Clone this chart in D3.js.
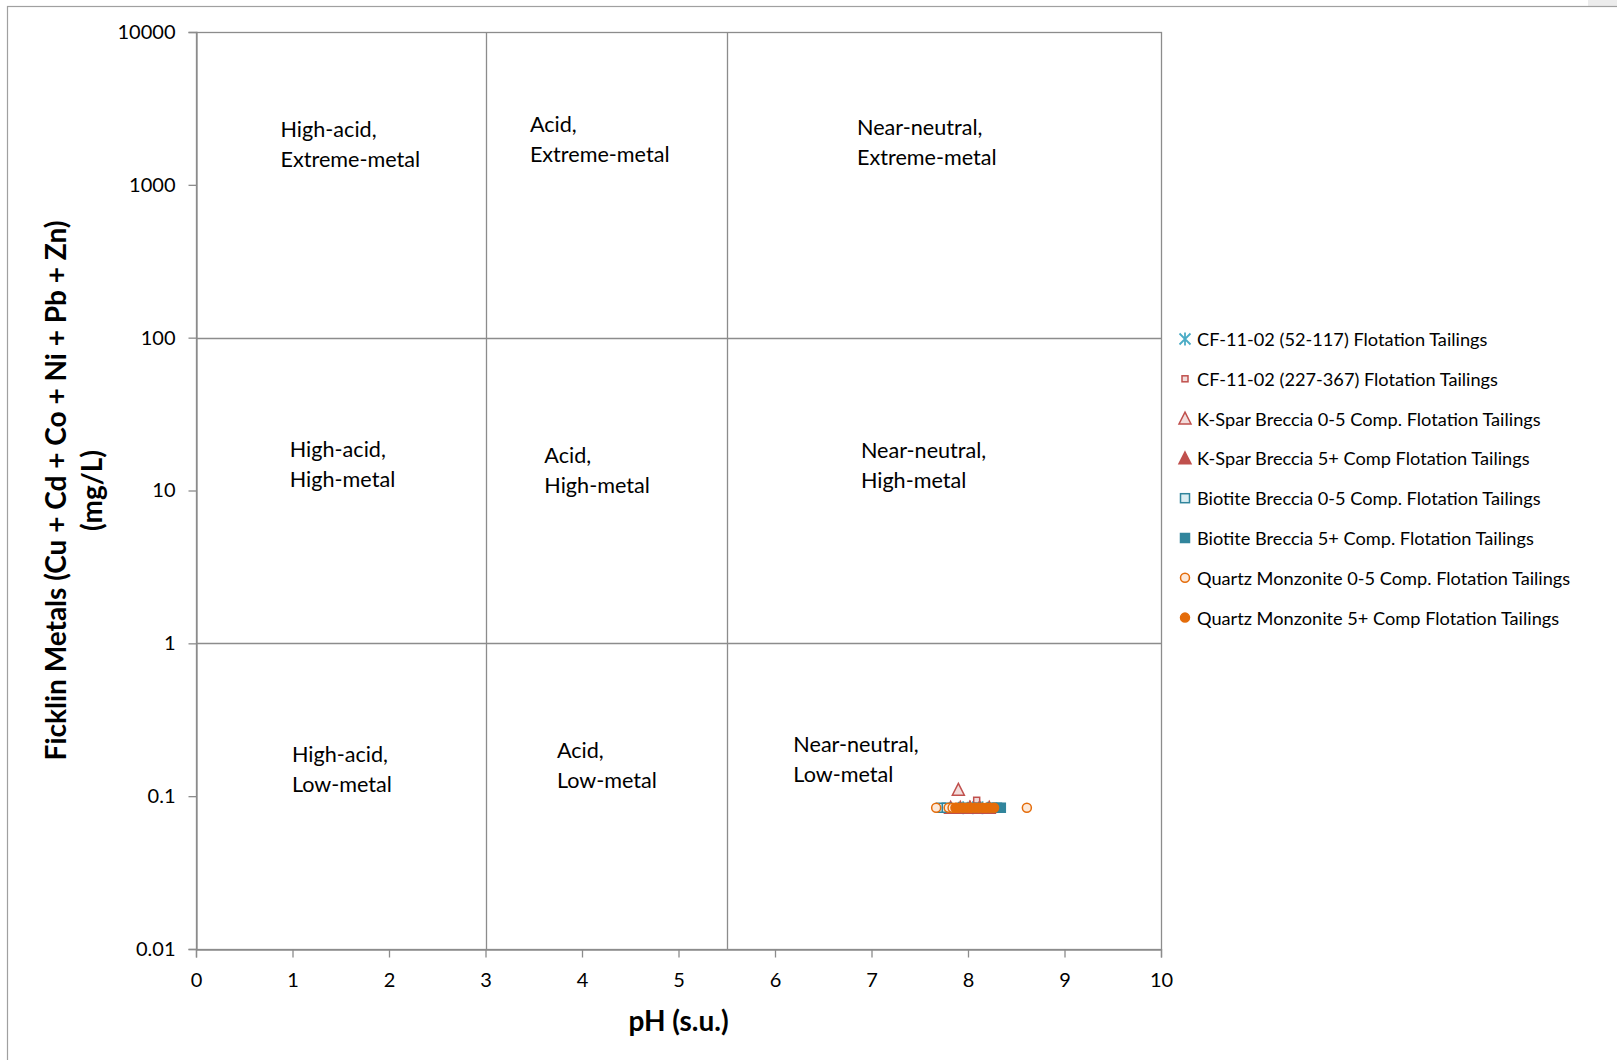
<!DOCTYPE html>
<html>
<head>
<meta charset="utf-8">
<script src="https://cdn.jsdelivr.net/npm/d3@7"></script>
<style>
  html, body { margin: 0; padding: 0; background: #fff; }
  svg { display: block; }
  text { font-family: Lato, "Open Sans", sans-serif; fill: #000; }
</style>
</head>
<body>
<svg id="chart" width="1617" height="1060"></svg>
<script>
// ---------------- Data ----------------
const xTicks = [0, 1, 2, 3, 4, 5, 6, 7, 8, 9, 10];
const yTicks = [0.01, 0.1, 1, 10, 100, 1000, 10000];
const yTickLabels = ["0.01", "0.1", "1", "10", "100", "1000", "10000"];
const phBoundaries = [3, 5.5];
const metalBoundaries = [1, 100];

const seriesNames = [
  "CF-11-02 (52-117) Flotation Tailings",
  "CF-11-02 (227-367) Flotation Tailings",
  "K-Spar Breccia 0-5 Comp. Flotation Tailings",
  "K-Spar Breccia 5+ Comp Flotation Tailings",
  "Biotite Breccia 0-5 Comp. Flotation Tailings",
  "Biotite Breccia 5+ Comp. Flotation Tailings",
  "Quartz Monzonite 0-5 Comp. Flotation Tailings",
  "Quartz Monzonite 5+ Comp Flotation Tailings"
];

const cf52pH   = [7.95, 8.05, 8.15];
const cf52Val  = [0.084, 0.084, 0.084];
const cf227pH  = [8.09, 8.00, 8.20];
const cf227Val = [0.094, 0.084, 0.084];
const ksp05pH  = [7.90, 8.02, 8.12];
const ksp05Val = [0.110, 0.084, 0.084];
const ksp5pH   = [7.82, 7.92, 8.02, 8.12, 8.22];
const ksp5Val  = [0.084, 0.084, 0.084, 0.084, 0.084];
const bio05pH  = [7.72, 7.78, 8.30];
const bio05Val = [0.084, 0.084, 0.084];
const bio5pH   = [7.95, 8.10, 8.25, 8.34];
const bio5Val  = [0.084, 0.084, 0.084, 0.084];
const qm05pH   = [7.67, 7.80, 7.84, 7.88, 8.61];
const qm05Val  = [0.084, 0.084, 0.084, 0.084, 0.084];
const qm5pH    = [7.87, 7.91, 7.95, 7.99, 8.03, 8.07, 8.11, 8.15, 8.19, 8.23, 8.27];
const qm5Val   = [0.084, 0.084, 0.084, 0.084, 0.084, 0.084, 0.084, 0.084, 0.084, 0.084, 0.084];

const regionLine1 = ["High-acid,", "Acid,", "Near-neutral,", "High-acid,", "Acid,", "Near-neutral,", "High-acid,", "Acid,", "Near-neutral,"];
const regionLine2 = ["Extreme-metal", "Extreme-metal", "Extreme-metal", "High-metal", "High-metal", "High-metal", "Low-metal", "Low-metal", "Low-metal"];
const regionPH    = [0.876, 3.46, 6.85, 0.972, 3.61, 6.89, 0.994, 3.74, 6.19];
const regionVal   = [2320, 2510, 2390, 18.7, 17.1, 18.5, 0.189, 0.201, 0.220];

// ---------------- Styles ----------------
const seriesStyle = [
  { shape: "star",     size: 11, stroke: "#4bacc6", fill: "#dbeef3" },
  { shape: "square",   size: 6,  stroke: "#c0504d", fill: "#f2dcdb" },
  { shape: "triangle", size: 12, stroke: "#c0504d", fill: "#f2dcdb" },
  { shape: "triangle", size: 12, stroke: "#c0504d", fill: "#c0504d" },
  { shape: "square",   size: 9,  stroke: "#31859c", fill: "#dbeef3" },
  { shape: "square",   size: 9,  stroke: "#31859c", fill: "#31859c" },
  { shape: "circle",   size: 10, stroke: "#e46c0a", fill: "#fde9d9" },
  { shape: "circle",   size: 10, stroke: "#e46c0a", fill: "#e46c0a" }
];
const seriesPH  = [cf52pH, cf227pH, ksp05pH, ksp5pH, bio05pH, bio5pH, qm05pH, qm5pH];
const seriesVal = [cf52Val, cf227Val, ksp05Val, ksp5Val, bio05Val, bio5Val, qm05Val, qm5Val];

// ---------------- Layout ----------------
const svg = d3.select("#chart");
const W = 1617, H = 1060;
const plot = { left: 196, right: 1161, top: 32, bottom: 949 };
const axisColor = "#8c8c8c";

svg.append("rect").attr("x", 0).attr("y", 0).attr("width", W).attr("height", H).attr("fill", "#fff");
svg.append("rect").attr("x", 1588).attr("y", 0).attr("width", 40).attr("height", 6).attr("fill", "#ececec");
svg.append("rect").attr("x", 7.5).attr("y", 6.5).attr("width", W + 20).attr("height", H + 20)
  .attr("fill", "none").attr("stroke", "#a0a0a0").attr("stroke-width", 1.2);

const x = d3.scaleLinear().domain([0, 10]).range([plot.left, plot.right]);
const y = d3.scaleLog().domain([0.01, 10000]).range([plot.bottom, plot.top]);

svg.append("rect")
  .attr("x", plot.left + 0.5).attr("y", plot.top + 0.5)
  .attr("width", plot.right - plot.left).attr("height", plot.bottom - plot.top)
  .attr("fill", "none").attr("stroke", axisColor).attr("stroke-width", 1.3);

svg.selectAll("line.vdiv").data(phBoundaries).join("line")
  .attr("x1", d => Math.round(x(d)) + 0.5).attr("x2", d => Math.round(x(d)) + 0.5)
  .attr("y1", plot.top).attr("y2", plot.bottom)
  .attr("stroke", axisColor).attr("stroke-width", 1.3);
svg.selectAll("line.hdiv").data(metalBoundaries).join("line")
  .attr("y1", d => Math.round(y(d)) + 0.5).attr("y2", d => Math.round(y(d)) + 0.5)
  .attr("x1", plot.left).attr("x2", plot.right)
  .attr("stroke", axisColor).attr("stroke-width", 1.3);

const xAxis = d3.axisBottom(x).tickValues(xTicks).tickFormat(d3.format("d")).tickSize(8).tickPadding(15);
const gx = svg.append("g").attr("transform", `translate(0,${plot.bottom + 0.5})`).call(xAxis);
gx.select(".domain").attr("stroke", axisColor).attr("stroke-width", 1.3);
gx.selectAll(".tick line").attr("stroke", axisColor).attr("stroke-width", 1.3);
gx.selectAll(".tick text").attr("font-size", 20).attr("fill", "#000")
  .attr("font-family", "Lato, sans-serif");

const yAxis = d3.axisLeft(y).tickValues(yTicks).tickFormat((d, i) => yTickLabels[i]).tickSize(8).tickPadding(13);
const gy = svg.append("g").attr("transform", `translate(${plot.left + 0.5},0)`).call(yAxis);
gy.select(".domain").attr("stroke", axisColor).attr("stroke-width", 1.3);
gy.selectAll(".tick line").attr("stroke", axisColor).attr("stroke-width", 1.3);
gy.selectAll(".tick text").attr("font-size", 20).attr("fill", "#000")
  .attr("font-family", "Lato, sans-serif");

const lineGap = 30.4;
const rg = svg.append("g");
regionLine1.forEach((t, i) => {
  const px = x(regionPH[i]), py = y(regionVal[i]);
  rg.append("text").attr("x", px).attr("y", py)
    .attr("font-size", 21.6).attr("dominant-baseline", "central").text(t);
  rg.append("text").attr("x", px).attr("y", py + lineGap)
    .attr("font-size", 21.6).attr("dominant-baseline", "central").text(regionLine2[i]);
});

svg.append("text").attr("x", (plot.left + plot.right) / 2).attr("y", 1020)
  .attr("text-anchor", "middle").attr("dominant-baseline", "central")
  .attr("font-size", 28).attr("font-weight", "bold").text("pH (s.u.)");
const yc = (plot.top + plot.bottom) / 2;
svg.append("text").attr("transform", `translate(55,${yc}) rotate(-90)`)
  .attr("text-anchor", "middle").attr("dominant-baseline", "central")
  .attr("font-size", 28).attr("font-weight", "bold").text("Ficklin Metals (Cu + Cd + Co + Ni + Pb + Zn)");
svg.append("text").attr("transform", `translate(91,${yc}) rotate(-90)`)
  .attr("text-anchor", "middle").attr("dominant-baseline", "central")
  .attr("font-size", 28).attr("font-weight", "bold").text("(mg/L)");

function drawMarker(g, st, cx, cy) {
  const s = st.size;
  if (st.shape === "circle") {
    g.append("circle").attr("cx", cx).attr("cy", cy).attr("r", s / 2 - 0.5)
      .attr("fill", st.fill).attr("stroke", st.stroke).attr("stroke-width", 1.5);
  } else if (st.shape === "square") {
    g.append("rect").attr("x", cx - s / 2).attr("y", cy - s / 2).attr("width", s).attr("height", s)
      .attr("fill", st.fill).attr("stroke", st.stroke).attr("stroke-width", 1.5);
  } else if (st.shape === "triangle") {
    const h = s * 0.9;
    g.append("path")
      .attr("d", `M${cx},${cy - h / 2 - 1}L${cx + s / 2},${cy + h / 2}L${cx - s / 2},${cy + h / 2}Z`)
      .attr("fill", st.fill).attr("stroke", st.stroke).attr("stroke-width", 1.5);
  } else if (st.shape === "star") {
    const r = s / 2;
    g.append("path")
      .attr("d", `M${cx - r},${cy - r}L${cx + r},${cy + r}M${cx - r},${cy + r}L${cx + r},${cy - r}M${cx},${cy - r - 1}L${cx},${cy + r + 1}`)
      .attr("fill", "none").attr("stroke", st.stroke).attr("stroke-width", 1.8);
  }
}

const pg = svg.append("g");
seriesPH.forEach((arr, si) => {
  const sg = pg.append("g");
  arr.forEach((ph, j) => drawMarker(sg, seriesStyle[si], x(ph), y(seriesVal[si][j])));
});

const lg = svg.append("g");
const legX = 1185, legY0 = 339, legStep = 39.8;
seriesNames.forEach((name, i) => {
  const ly = legY0 + i * legStep;
  drawMarker(lg, seriesStyle[i], legX, ly);
  lg.append("text").attr("x", 1197).attr("y", ly).attr("dominant-baseline", "central")
    .attr("font-size", 18.2).text(name);
});
</script>
</body>
</html>
